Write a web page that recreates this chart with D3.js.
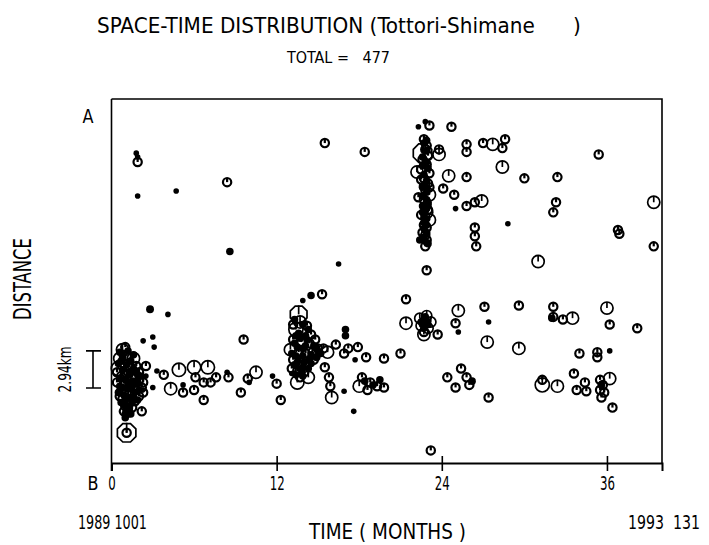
<!DOCTYPE html>
<html>
<head>
<meta charset="utf-8">
<script src="https://cdn.jsdelivr.net/npm/d3@7"></script>
<style>
  body { margin: 0; background: #fff; }
  svg { display: block; }
  text { fill: #000; font-family: 'DejaVu Sans Condensed', 'Liberation Sans Narrow', 'DejaVu Sans', sans-serif; white-space: pre; }
</style>
</head>
<body>
<svg id="chart" width="709" height="545"></svg>
<script>
// time in months since 1989-10-01, distance along A-B in km, magnitude class
const earlyBlob = [
  [0.8, 9.0, 3], [1.0, 9.2, 2], [0.6, 8.3, 3], [1.1, 8.5, 2], [1.6, 8.3, 3], [0.5, 7.5, 3.5],
  [0.9, 7.9, 2], [1.3, 7.7, 2], [1.8, 7.7, 2], [2.0, 7.2, 2], [0.7, 6.9, 2], [1.1, 7.1, 2],
  [1.5, 6.8, 2], [2.0, 6.6, 2], [0.4, 6.4, 2], [0.9, 6.3, 2], [1.3, 6.1, 2], [1.7, 6.0, 2],
  [2.2, 6.0, 2], [0.7, 5.7, 2], [1.1, 5.6, 2], [1.5, 5.5, 2], [2.0, 5.3, 2], [0.8, 5.1, 2],
  [1.2, 4.9, 2], [1.7, 4.9, 2], [1.0, 4.5, 2], [1.5, 4.4, 2], [0.9, 4.1, 2], [1.2, 4.0, 2],
  [1.0, 3.6, 1.5], [0.6, 5.3, 2], [0.4, 7.2, 2], [0.7, 8.1, 1.5], [1.4, 7.3, 1.5], [1.8, 6.3, 1.5],
  [1.2, 5.9, 1.5], [1.6, 8.6, 1.5], [1.0, 6.6, 1.5], [1.4, 5.2, 1.5], [0.9, 4.7, 1.5], [1.3, 4.3, 1.5],
  [1.9, 7.0, 1.5], [0.6, 6.1, 1.5], [1.1, 2.4, 5], [1.1, 2.4, 2]
];
const earlyBlobMicro = [
  [0.6, 8.8, 1.5], [1.2, 8.9, 1.5], [0.8, 8.5, 1.5], [1.4, 8.1, 1.5], [0.5, 7.9, 1.5], [1.1, 7.8, 1.5],
  [1.6, 7.5, 1.5], [0.8, 7.4, 1.5], [1.3, 7.0, 1.5], [1.7, 7.2, 1.5], [0.6, 6.7, 1.5], [1.5, 6.5, 1.5],
  [2.1, 6.9, 1.5], [0.8, 6.0, 1.5], [1.5, 6.1, 1.5], [2.0, 5.8, 1.5], [0.9, 5.4, 1.5], [1.7, 5.6, 1.5],
  [1.1, 5.1, 1.5], [1.9, 5.0, 1.5], [0.7, 4.8, 1.5], [1.5, 4.8, 1.5], [1.2, 4.5, 1.5], [1.1, 4.2, 1.5],
  [1.4, 3.9, 1.5], [1.0, 3.9, 1.5], [1.6, 5.2, 1.5], [0.5, 5.6, 1.5], [1.9, 6.5, 1.5], [1.2, 6.4, 1.5]
];
const earlyScatter = [
  [1.8, 24.6, 1], [1.9, 24.3, 1], [1.9, 23.9, 2], [1.9, 21.2, 1], [4.7, 21.6, 1], [8.4, 22.3, 2],
  [8.6, 16.8, 1.5], [2.8, 12.2, 1.6], [4.1, 11.8, 1], [2.3, 9.7, 1], [3.0, 10.0, 1], [3.1, 9.2, 1],
  [9.6, 9.8, 2], [2.5, 7.7, 2], [3.3, 7.3, 1], [3.8, 7.0, 2], [4.9, 7.4, 3.3], [6.0, 7.6, 3.3],
  [6.1, 6.8, 2], [7.0, 7.6, 3.3], [7.6, 6.8, 2], [7.2, 6.4, 2], [6.7, 6.4, 2], [8.4, 7.2, 1],
  [8.5, 6.8, 2], [10.5, 7.2, 3], [9.9, 6.7, 2], [10.0, 6.4, 1], [11.7, 6.9, 1], [12.0, 6.3, 2],
  [12.3, 5.0, 2], [9.4, 5.6, 2], [6.7, 5.0, 2], [6.0, 5.8, 2], [5.2, 5.6, 2], [5.2, 6.2, 1],
  [4.3, 5.9, 3], [3.0, 6.0, 1], [2.3, 5.6, 2], [2.2, 4.1, 2], [2.5, 6.9, 1], [2.3, 6.4, 2]
];
const swarm1990 = [
  [13.6, 11.8, 4.5], [13.7, 11.2, 3], [13.4, 10.6, 3.5], [14.2, 10.9, 2], [14.5, 10.2, 2], [13.2, 9.8, 2],
  [13.8, 9.6, 2], [14.4, 9.5, 2], [14.8, 9.8, 2], [13.0, 9.0, 3], [13.6, 8.8, 2], [14.1, 8.7, 2],
  [14.6, 8.8, 2], [15.0, 9.1, 2], [13.2, 8.2, 2], [13.7, 8.0, 2], [14.2, 7.9, 2], [14.7, 8.2, 2],
  [13.1, 7.5, 2], [13.5, 7.3, 2], [14.0, 7.2, 2], [13.7, 6.8, 2], [13.5, 6.4, 3.3], [14.3, 6.8, 3],
  [15.4, 9.1, 2], [15.7, 8.8, 3], [16.3, 9.4, 2], [13.4, 10.1, 1.5], [13.9, 9.1, 1.5], [14.4, 8.3, 1.5],
  [13.4, 8.5, 1.5], [13.9, 7.6, 1.5], [14.9, 8.4, 1.6], [13.1, 7.1, 1], [13.2, 11.0, 2], [13.9, 12.9, 1],
  [14.5, 13.3, 1.5], [15.3, 13.4, 2]
];
const swarm1990Micro = [
  [13.3, 11.4, 1.5], [13.9, 11.0, 1.5], [14.3, 10.6, 1.5], [13.6, 10.3, 1.5], [14.1, 10.1, 1.5], [13.3, 9.5, 1.5],
  [14.1, 9.3, 1.5], [14.7, 9.3, 1.5], [13.5, 9.2, 1.5], [13.1, 8.7, 1.5], [13.9, 8.5, 1.5], [14.5, 8.6, 1.5],
  [13.5, 8.0, 1.5], [14.0, 8.0, 1.5], [14.5, 7.9, 1.5], [13.3, 7.8, 1.5], [13.8, 7.4, 1.5], [14.3, 7.5, 1.5],
  [13.4, 7.0, 1.5], [13.9, 6.9, 1.5], [15.2, 8.7, 1.5], [15.0, 8.9, 1.5], [13.7, 9.9, 1.5], [14.2, 9.8, 1.5]
];
const after1990 = [
  [17.0, 10.6, 1.5], [17.0, 10.1, 1.5], [16.9, 8.7, 2], [17.2, 9.1, 2], [17.9, 9.2, 2], [18.5, 8.4, 2],
  [17.7, 8.2, 1], [19.8, 8.3, 2], [21.0, 8.7, 2], [21.4, 13.0, 2], [15.5, 7.6, 2], [15.8, 6.8, 2],
  [15.9, 6.1, 2], [16.0, 5.2, 3], [16.9, 5.7, 1], [17.6, 4.1, 1], [18.0, 6.1, 3], [18.2, 6.8, 2],
  [18.6, 5.8, 2], [18.8, 6.4, 2], [18.4, 6.5, 1.5], [19.0, 6.2, 1.5], [19.3, 6.1, 2], [19.5, 6.6, 1.5],
  [19.8, 6.0, 2], [15.5, 25.4, 2], [18.4, 24.7, 2], [16.5, 15.8, 1]
];
const swarm1991 = [
  [22.3, 26.7, 1], [22.8, 27.1, 1], [23.1, 26.8, 2], [24.7, 26.7, 2], [22.6, 24.6, 5], [22.7, 25.7, 2],
  [22.9, 25.2, 2], [22.6, 24.1, 2], [22.9, 23.7, 2], [22.7, 22.6, 2], [23.0, 22.2, 2], [22.8, 21.7, 2],
  [22.9, 20.5, 2], [22.7, 18.9, 2], [22.9, 18.7, 2], [22.2, 23.1, 3], [23.1, 21.3, 3], [22.3, 21.1, 2],
  [22.9, 19.9, 3], [23.1, 19.3, 3], [22.6, 18.3, 2], [22.9, 17.7, 2], [22.8, 17.2, 2], [23.8, 24.9, 2],
  [23.8, 24.5, 3], [22.8, 24.9, 2], [23.0, 24.4, 2], [22.5, 23.3, 2], [23.1, 23.0, 2], [22.5, 22.5, 2],
  [23.1, 21.9, 2], [22.7, 20.9, 2], [23.0, 20.1, 2], [22.5, 19.7, 2], [22.8, 18.1, 2], [22.4, 17.7, 1.5],
  [23.0, 17.4, 1.5], [22.8, 23.9, 1.5], [22.6, 22.0, 1.5], [23.0, 20.7, 1.5], [22.7, 19.5, 1.5], [22.9, 25.6, 1.5]
];
const swarm1991Micro = [
  [22.7, 25.4, 1.5], [22.9, 24.8, 1.5], [22.6, 24.3, 1.5], [22.9, 23.9, 1.5], [22.6, 23.6, 1.5], [23.0, 23.4, 1.5],
  [22.7, 22.9, 1.5], [22.9, 22.4, 1.5], [22.6, 21.9, 1.5], [22.9, 21.5, 1.5], [22.6, 21.2, 1.5], [22.9, 20.9, 1.5],
  [22.6, 20.4, 1.5], [22.9, 20.2, 1.5], [22.6, 19.9, 1.5], [22.9, 19.4, 1.5], [22.7, 19.1, 1.5], [22.9, 18.9, 1.5],
  [22.7, 18.6, 1.5], [22.9, 18.3, 1.5], [22.6, 17.9, 1.5], [22.9, 17.5, 1.5], [22.8, 22.0, 1.5], [22.8, 20.0, 1.5]
];
const swarm1991South = [
  [22.4, 11.5, 2.5], [22.9, 11.7, 2.5], [23.2, 11.2, 2.5], [22.5, 10.9, 2.5], [23.0, 10.7, 2.5], [22.7, 10.4, 2],
  [22.7, 10.2, 3], [23.7, 10.2, 2], [21.4, 11.1, 3], [22.9, 15.3, 2], [23.2, 1.0, 2], [22.8, 11.0, 1.5],
  [22.6, 11.3, 1.5], [22.6, 11.0, 1.5], [22.9, 11.3, 1.5], [23.0, 11.0, 1.5], [22.7, 10.7, 1.5], [22.8, 11.6, 1.5],
  [22.5, 11.2, 1.5]
];
const laterNorth = [
  [25.8, 25.3, 2], [25.8, 24.7, 2], [27.0, 25.4, 2], [27.7, 25.3, 3], [28.4, 25.0, 2], [28.6, 25.7, 2],
  [28.4, 23.5, 3], [24.5, 22.8, 3], [25.8, 22.7, 2], [30.0, 22.6, 2], [32.4, 22.7, 2], [24.1, 21.8, 2],
  [24.9, 21.3, 2], [25.0, 20.2, 1], [25.8, 20.4, 2], [26.4, 20.7, 2], [26.9, 20.8, 3], [28.8, 19.0, 1],
  [26.4, 18.7, 2], [26.4, 18.0, 2], [26.5, 17.2, 2], [35.4, 24.5, 2], [32.3, 20.7, 2], [32.1, 19.9, 2],
  [36.8, 18.5, 2], [36.9, 18.2, 2], [39.4, 20.7, 3], [39.4, 17.2, 2], [31.0, 16.0, 3]
];
const laterSouth = [
  [25.2, 12.1, 3], [27.1, 12.4, 2], [29.6, 12.5, 2], [32.1, 12.4, 2], [32.1, 11.6, 2], [32.0, 11.5, 1.5],
  [32.8, 11.4, 2], [33.5, 11.5, 3], [36.0, 12.3, 3], [36.2, 11.0, 2], [38.2, 10.7, 2], [25.0, 11.1, 2],
  [25.2, 10.4, 1], [27.4, 11.2, 1], [27.3, 9.6, 3], [29.6, 9.1, 3], [34.0, 8.7, 2], [35.3, 8.8, 2],
  [35.3, 8.4, 2], [36.2, 8.9, 1], [25.4, 7.5, 2], [25.8, 6.8, 2], [26.0, 6.2, 2], [26.2, 6.5, 1.5],
  [25.0, 6.0, 2], [27.4, 5.2, 2], [31.3, 6.2, 3.5], [31.3, 6.6, 2], [32.4, 6.1, 3], [33.6, 7.1, 2],
  [33.8, 5.8, 2], [34.4, 6.4, 2], [34.5, 5.7, 2], [35.5, 6.6, 2], [35.7, 6.2, 2], [35.5, 5.8, 2],
  [35.8, 5.6, 2], [35.6, 6.2, 1.5], [35.6, 5.2, 2], [36.2, 6.7, 3], [36.4, 4.4, 2], [24.4, 6.8, 2]
];

const monthTicks = [0, 12, 24, 36];
const scaleBarKm = 2.94;
const scaleBarBase = 5.96;
const totalCount = 477;

const events = [].concat(earlyBlob, earlyBlobMicro, earlyScatter, swarm1990, swarm1990Micro, after1990,
                         swarm1991, swarm1991Micro, swarm1991South, laterNorth, laterSouth);

const svg = d3.select('#chart');
const plotLeft = 111.5, plotRight = 662, plotTop = 99, plotBottom = 463;

const x = d3.scaleLinear().domain([0, 40]).range([plotLeft, plotRight]);
const y = d3.scaleLinear().domain([0, 28.9]).range([plotBottom, plotTop]);
const r = d3.scaleLinear().domain([1, 5]).range([2.2, 10]);

// squeeze a text horizontally to a given width (plotter lettering is narrow)
function squeeze(sel, width) {
  const natural = sel.node().getComputedTextLength();
  const prev = sel.attr('transform') || '';
  sel.attr('transform', prev + ` scale(${width / natural},1)`);
  return sel;
}
function label(px, py, str, size, width, opts = {}) {
  const t = svg.append('text')
    .attr('transform', `translate(${px},${py})` + (opts.rotate ? ` rotate(${opts.rotate})` : ''))
    .attr('font-size', size)
    .attr('text-anchor', opts.anchor || 'start')
    .text(str);
  return squeeze(t, width);
}

// titles
label(97, 33, 'SPACE-TIME DISTRIBUTION (Tottori-Shimane      )', 22, 484);
label(287, 63, 'TOTAL =   ' + totalCount, 16, 103);

// frame
svg.append('path')
  .attr('d', `M${plotLeft},${plotTop}H${plotRight}V${plotBottom}`)
  .attr('fill', 'none').attr('stroke', '#000').attr('stroke-width', 1.6);
svg.append('line').attr('x1', plotLeft).attr('x2', plotLeft).attr('y1', plotTop).attr('y2', plotBottom + 8)
  .attr('stroke', '#000').attr('stroke-width', 1.6);

// x axis
const xAxis = d3.axisBottom(x).tickValues(monthTicks).tickSize(8).tickFormat(d3.format('d'));
const gx = svg.append('g').attr('transform', `translate(0,${plotBottom})`).call(xAxis);
gx.select('.domain').attr('stroke-width', 2);
gx.selectAll('.tick line').attr('y1', d => d === 0 ? 0 : -7).attr('y2', 8).attr('stroke-width', 1.6);
gx.selectAll('.tick text')
  .attr('y', 27).attr('dy', null)
  .attr('font-size', 20)
  .attr('font-family', null)
  .each(function (d) { squeeze(d3.select(this), String(d).length * 7.5); });

// end labels
label(88, 123, 'A', 20, 11, { anchor: 'middle' });
label(93, 490, 'B', 20, 11, { anchor: 'middle' });
label(78, 529, '1989 1001', 19, 69);
label(628, 529, '1993  131', 19, 72);
label(309, 539, 'TIME ( MONTHS )', 22, 157);
label(31, 279, 'DISTANCE', 24, 82, { rotate: -90, anchor: 'middle' });

// distance scale bar
const barX = 93;
const barTop = y(scaleBarBase + scaleBarKm), barBottom = y(scaleBarBase);
svg.append('path')
  .attr('d', `M${barX - 7},${barTop}H${barX + 8}M${barX},${barTop}V${barBottom}M${barX - 7},${barBottom}H${barX + 8}`)
  .attr('fill', 'none').attr('stroke', '#000').attr('stroke-width', 1.6);
label(71, y(scaleBarBase + scaleBarKm / 2), scaleBarKm + 'km', 17, 46, { rotate: -90, anchor: 'middle' });

// events
const octagon = rad => d3.line()(d3.range(9).map(i => {
  const a = Math.PI / 8 + i * Math.PI / 4;
  return [rad * Math.cos(a), rad * Math.sin(a)];
})) + 'Z';

const marks = svg.append('g').selectAll('g.ev').data(events).enter().append('g')
  .attr('class', 'ev')
  .attr('transform', d => `translate(${x(d[0])},${y(d[1])})`);

marks.each(function (d) {
  const sel = d3.select(this);
  const rad = r(d[2]);
  if (d[2] < 1.7) {
    sel.append('circle').attr('r', rad + 0.6).attr('fill', '#000');
    return;
  }
  const sw = rad < 5 ? 2.2 : 1.7;
  if (d[2] >= 4.5) {
    sel.append('path').attr('d', octagon(rad)).attr('fill', 'none').attr('stroke', '#000').attr('stroke-width', sw);
  } else {
    sel.append('circle').attr('r', rad).attr('fill', 'none').attr('stroke', '#000').attr('stroke-width', sw);
  }
  sel.append('line').attr('x1', 0).attr('x2', 0).attr('y1', -rad).attr('y2', 0)
    .attr('stroke', '#000').attr('stroke-width', sw);
});
</script>
</body>
</html>
